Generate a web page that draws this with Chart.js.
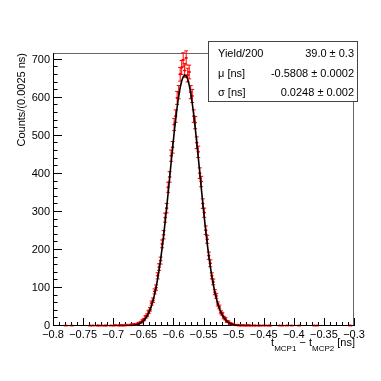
<!DOCTYPE html>
<html>
<head>
<meta charset="utf-8">
<script src="https://cdn.jsdelivr.net/npm/chart.js@4.4.1/dist/chart.umd.min.js"></script>
<style>
html, body { margin: 0; padding: 0; background: #fff; }
</style>
</head>
<body>
<canvas id="grafico" width="381" height="381"></canvas>
<script>
// binning of the histogram (ns)
var binLo = -0.8;
var binW = 0.0025;

// counts per bin, 200 bins from -0.8 to -0.3
var counts = [
  0,0,0,0,0,0,0,0,1,0, 0,0,1,0,0,0,0,0,0,0,
  0,0,0,0,1,0,1,0,0,1, 1,0,1,0,1,1,0,0,1,0,
  1,2,0,1,2,1,2,1,3,2, 3,2,4,3,5,4,6,8,10,14,
  17,24,28,37,44,60,68,91,101,132, 155,172,216,240,285,310,365,392,448,470,
  530,552,600,615,662,680,700,672,705,660, 668,615,605,552,535,482,458,402,380,322,
  298,252,228,185,165,132,116,89,79,58, 50,36,32,22,19,12,11,7,6,4,
  3,2,3,1,2,1,2,1,1,2, 1,1,0,1,1,0,1,1,0,1,
  0,1,0,1,1,0,0,0,0,0, 1,0,1,0,0,1,0,0,1,0,
  0,0,0,1,0,0,0,0,0,0, 0,0,0,1,0,1,0,0,0,0,
  0,0,0,0,0,0,0,0,0,0, 0,0,0,0,0,0,0,1,0,0
];
var errScale = 0.7; // error bars in the picture are shorter than sqrt(N)

// fit curve, values at bin centres starting at bin 48
var fitStart = 48;
var fitY = [
  0.3,0.4,0.6,0.9,1.2,1.7,2.5,3.4,4.7,6.4,8.7,11.7,
  15.5,20.3,26.3,33.8,43.0,54.2,67.5,83.3,101.8,123.1,
  147.3,174.5,204.7,237.6,273.0,310.5,349.7,389.9,430.1,469.8,
  507.9,543.6,576.0,603.9,626.9,644.3,655.3,659.9,657.7,649.0,
  633.9,612.8,586.5,555.7,521.1,483.7,444.5,404.3,364.1,324.5,
  286.3,250.1,216.2,185.0,156.7,131.4,109.1,89.7,72.9,58.7,
  46.8,36.9,28.9,22.3,17.1,12.9,9.7,7.2,5.3,3.8,
  2.8,2.0,1.4,1.0,0.7,0.5
];

var xTicks = [-0.8, -0.75, -0.7, -0.65, -0.6, -0.55, -0.5, -0.45, -0.4, -0.35, -0.3];
var yTicks = [0, 100, 200, 300, 400, 500, 600, 700];

var statsRows = [
  ['Yield/200', '39.0 \u00b1 0.3'],
  ['\u03bc [ns]', '-0.5808 \u00b1 0.0002'],
  ['\u03c3 [ns]', '0.0248 \u00b1 0.002']
];

var FONT = '"Liberation Sans", Arial, Helvetica, sans-serif';

function centre(i) { return binLo + binW * (i + 0.5); }

var pontos = [];
counts.forEach(function (n, i) { if (n > 0) pontos.push({x: centre(i), y: n}); });

var curva = [{x: -0.8, y: 0}];
fitY.forEach(function (v, k) { curva.push({x: centre(fitStart + k), y: v}); });
curva.push({x: -0.3, y: 0});

function fmt(v) {
  var s = String(Math.round(v * 100) / 100);
  return s.replace('-', '\u2212');
}

// frame and inward ticks, ROOT style
var moldura = {
  id: 'moldura',
  beforeDatasetsDraw: function (chart) {
    var ctx = chart.ctx, a = chart.chartArea, sx = chart.scales.x, sy = chart.scales.y;
    ctx.save();
    ctx.lineWidth = 1;
    ctx.strokeStyle = '#666';
    ctx.beginPath();
    ctx.moveTo(a.left, a.top + 0.5); ctx.lineTo(a.right, a.top + 0.5);
    ctx.moveTo(a.right - 0.5, a.top); ctx.lineTo(a.right - 0.5, a.bottom);
    ctx.stroke();
    ctx.strokeStyle = '#000';
    ctx.beginPath();
    ctx.moveTo(a.left + 0.5, a.top); ctx.lineTo(a.left + 0.5, a.bottom);
    ctx.moveTo(a.left, a.bottom - 0.5); ctx.lineTo(a.right, a.bottom - 0.5);
    // y ticks: major every 100, minor every 20
    for (var v = 0; v <= 718; v += 20) {
      var py = Math.round(sy.getPixelForValue(v)) - 0.5;
      var len = (v % 100 === 0) ? 9 : 4.5;
      ctx.moveTo(a.left, py); ctx.lineTo(a.left + len, py);
    }
    // x ticks: major every 0.05, minor every 0.01
    for (var k = 0; k <= 50; k++) {
      var xv = -0.8 + k * 0.01;
      var px = Math.round(sx.getPixelForValue(xv)) + 0.5;
      var l2 = (k % 5 === 0) ? 8 : 4;
      ctx.moveTo(px, a.bottom); ctx.lineTo(px, a.bottom - l2);
    }
    ctx.stroke();

    // error bars of the data
    ctx.strokeStyle = '#ff0000';
    ctx.beginPath();
    counts.forEach(function (n, i) {
      if (!n) return;
      var xc = centre(i);
      var px = sx.getPixelForValue(xc), py = sy.getPixelForValue(n);
      var pl = sx.getPixelForValue(xc - binW / 2), pr = sx.getPixelForValue(xc + binW / 2);
      var e = errScale * Math.sqrt(n);
      var pt = sy.getPixelForValue(n + e), pb = sy.getPixelForValue(Math.max(0, n - e));
      ctx.moveTo(pl - 1, py); ctx.lineTo(pr + 1, py);
      ctx.moveTo(px, pt); ctx.lineTo(px, pb);
      ctx.moveTo(px - 2, pt); ctx.lineTo(px + 2, pt);
      ctx.moveTo(px - 2, pb); ctx.lineTo(px + 2, pb);
    });
    ctx.stroke();
    ctx.restore();
  },
  afterDraw: function (chart) {
    var ctx = chart.ctx;
    ctx.save();
    ctx.fillStyle = '#000';

    // y title
    ctx.font = '11px ' + FONT;
    ctx.translate(22, 53);
    ctx.rotate(-Math.PI / 2);
    ctx.textAlign = 'right';
    ctx.textBaseline = 'middle';
    ctx.fillText('Counts/(0.0025 ns)', 0, 0);
    ctx.setTransform(1, 0, 0, 1, 0, 0);

    // x title with subscripts, right aligned
    var partes = [['t', 11, 0], ['MCP1', 8, 5], [' \u2212 t', 11, 0], ['MCP2', 8, 5], [' [ns]', 11, 0]];
    var total = 0;
    partes.forEach(function (p) { ctx.font = p[1] + 'px ' + FONT; total += ctx.measureText(p[0]).width; });
    var xx = 355 - total;
    ctx.textAlign = 'left';
    ctx.textBaseline = 'alphabetic';
    partes.forEach(function (p) {
      ctx.font = p[1] + 'px ' + FONT;
      ctx.fillText(p[0], xx, 346 + p[2]);
      xx += ctx.measureText(p[0]).width;
    });

    // stats box
    ctx.fillStyle = '#fff';
    ctx.fillRect(208, 41, 149, 60);
    ctx.strokeStyle = '#444';
    ctx.lineWidth = 1;
    ctx.strokeRect(208.5, 41.5, 149, 60);
    ctx.fillStyle = '#000';
    ctx.font = '11px ' + FONT;
    statsRows.forEach(function (r, k) {
      var base = 57 + k * 19.5;
      ctx.textAlign = 'left';
      ctx.fillText(r[0], 218, base);
      ctx.textAlign = 'right';
      ctx.fillText(r[1], 354, base);
    });
    ctx.restore();
  }
};

var ctx = document.getElementById('grafico').getContext('2d');

var config = {
  type: 'scatter',
  data: {
    datasets: [{
      type: 'line',
      label: 'fit',
      data: curva,
      borderColor: '#000',
      borderWidth: 1.6,
      pointRadius: 0,
      fill: false,
      tension: 0
    }, {
      label: 'data',
      data: pontos,
      backgroundColor: '#ff0000',
      borderColor: '#ff0000',
      pointRadius: 1.2,
      borderWidth: 0
    }]
  },
  options: {
    responsive: false,
    animation: false,
    events: [],
    layout: { padding: { left: 0, top: 53, right: 27, bottom: 0 } },
    plugins: { legend: { display: false }, tooltip: { enabled: false } },
    scales: {
      x: {
        type: 'linear',
        min: -0.8,
        max: -0.3,
        grid: { display: false, drawTicks: false },
        border: { display: false },
        afterBuildTicks: function (s) { s.ticks = xTicks.map(function (v) { return {value: v}; }); },
        afterFit: function (s) { s.height = 55; },
        ticks: {
          autoSkip: false,
          maxRotation: 0,
          padding: 2,
          color: '#000',
          font: { family: FONT, size: 11 },
          callback: function (v) { return fmt(v); }
        }
      },
      y: {
        type: 'linear',
        min: 0,
        max: 718,
        grid: { display: false, drawTicks: false },
        border: { display: false },
        afterBuildTicks: function (s) { s.ticks = yTicks.map(function (v) { return {value: v}; }); },
        afterFit: function (s) { s.width = 53; },
        ticks: {
          padding: 3,
          color: '#000',
          font: { family: FONT, size: 11 },
          callback: function (v) { return String(v); }
        }
      }
    }
  },
  plugins: [moldura]
};

var graficoTempo = new Chart(ctx, config);
</script>
</body>
</html>
